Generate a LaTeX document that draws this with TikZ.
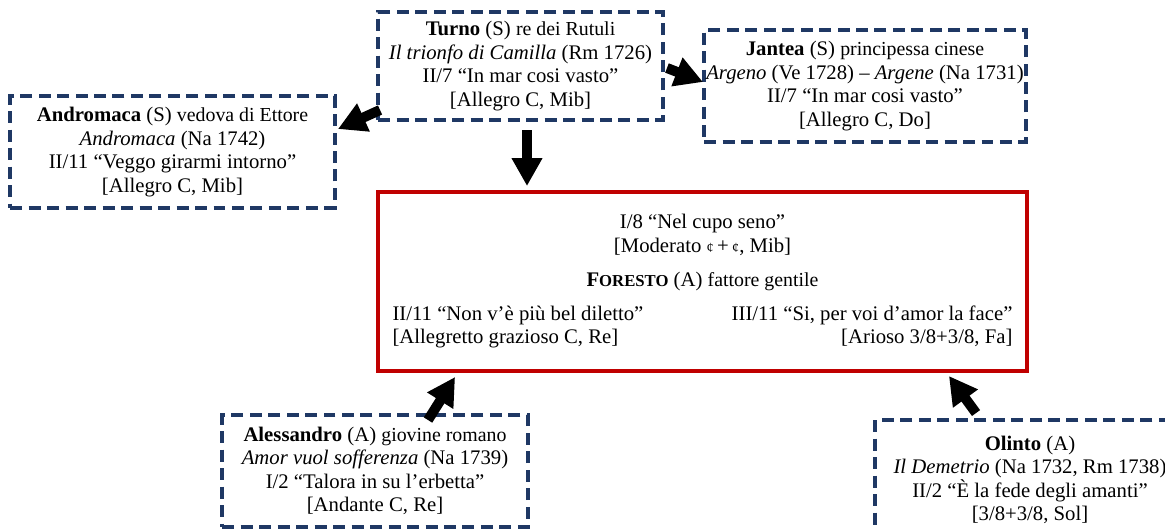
\documentclass[tikz,border=0pt]{standalone}
\usepackage{fontspec}
\setmainfont{Liberation Serif}
\usepackage{xcolor}
\usepackage{tikz}
\usetikzlibrary{arrows.meta,calc}
\definecolor{navyline}{HTML}{1F3864}
\definecolor{redline}{HTML}{C00000}
\newcommand{\ruolo}[1]{{\fontsize{11.3}{13.3}\selectfont #1}}

\begin{document}
\begin{tikzpicture}[x=0.02cm,y=0.02cm]
	\tikzstyle{bluebox}=[draw=navyline,line width=0.08cm,dash pattern=on 0.24cm off 0.13cm,align=center,inner sep=0pt,font=\fontsize{11.8}{13.3}\selectfont]
	\tikzstyle{redbox}=[draw=redline,line width=0.08cm,inner sep=0pt,font=\fontsize{11.8}{13.3}\selectfont]
	\tikzstyle{fatarrow}=[line width=0.2cm,-{Triangle[length=0.56cm,width=0.58cm]}]
	\useasboundingbox (0,0) rectangle (1165,-529);
	\clip (0,0) rectangle (1165,-529);
	\node [bluebox,minimum width=5.7cm,minimum height=2.16cm] (turno) at (520.5,-66) {\textbf{Turno} (S) \ruolo{re dei Rutuli}\\ \textit{Il trionfo di Camilla} (Rm 1726)\\ II/7 “In mar cosi vasto”\\ {[}Allegro C, Mib{]}};
	\node [bluebox,minimum width=6.44cm,minimum height=2.24cm] (jantea) at (865,-86) {\textbf{Jantea} (S) \ruolo{principessa cinese}\\ \textit{Argeno} (Ve 1728) – \textit{Argene} (Na 1731)\\ II/7 “In mar cosi vasto”\\ {[}Allegro C, Do{]}};
	\node [bluebox,minimum width=6.5cm,minimum height=2.24cm] (andromaca) at (172.5,-152) {\textbf{Andromaca} (S) \ruolo{vedova di Ettore}\\ \textit{Andromaca} (Na 1742)\\ II/11 “Veggo girarmi intorno”\\ {[}Allegro C, Mib{]}};
	\node [redbox,minimum width=12.98cm,minimum height=3.58cm] (foresto) at (702.5,-281.5) {%
		\begin{tabular*}{12.4cm}{@{}l@{\extracolsep{\fill}}r@{}}
			\multicolumn{2}{c}{I/8 “Nel cupo seno”}\\
			\multicolumn{2}{c}{{[}Moderato {\fontsize{8}{10}\selectfont ¢}\,+\,{\fontsize{8}{10}\selectfont ¢}, Mib{]}}\\[6pt]
			\multicolumn{2}{c}{\textbf{F{\fontsize{9.5}{10}\selectfont ORESTO}} (A) \ruolo{fattore gentile}}\\[6pt]
			II/11 “Non v’è più bel diletto” & III/11 “Si, per voi d’amor la face”\\
			{[}Allegretto grazioso C, Re{]} & {[}Arioso 3/8+3/8, Fa{]}
		\end{tabular*}};
	\node [bluebox,minimum width=6.12cm,minimum height=2.24cm] (alessandro) at (375,-471) {\textbf{Alessandro} (A) \ruolo{giovine romano}\\ \textit{Amor vuol sofferenza} (Na 1739)\\ I/2 “Talora in su l’erbetta”\\ {[}Andante C, Re{]}};
	\node [bluebox,minimum width=6.2cm,minimum height=2.4cm] (olinto) at (1030,-480) {\textbf{Olinto} (A)\\ \textit{Il Demetrio} (Na 1732, Rm 1738)\\ II/2 “È la fede degli amanti”\\ {[}3/8+3/8, Sol{]}};
	\draw [fatarrow] ($(turno.south west)+(4,12)$) -- ($(andromaca.north east)+(1,-35)$);
	\draw [fatarrow] ($(turno.east)+(2,-2)$) -- ($(jantea.west)+(1,4)$);
	\draw [fatarrow] ($(turno.south)+(6.5,-8)$) -- ($(turno.south |- foresto.north)+(6.5,4)$);
	\draw [fatarrow] ($(alessandro.north)+(53,-7)$) -- ($(foresto.south west)+(79,-4)$);
	\draw [fatarrow] ($(olinto.north west)+(103,5)$) -- ($(foresto.south east)+(-80,-3)$);
\end{tikzpicture}
\end{document}
